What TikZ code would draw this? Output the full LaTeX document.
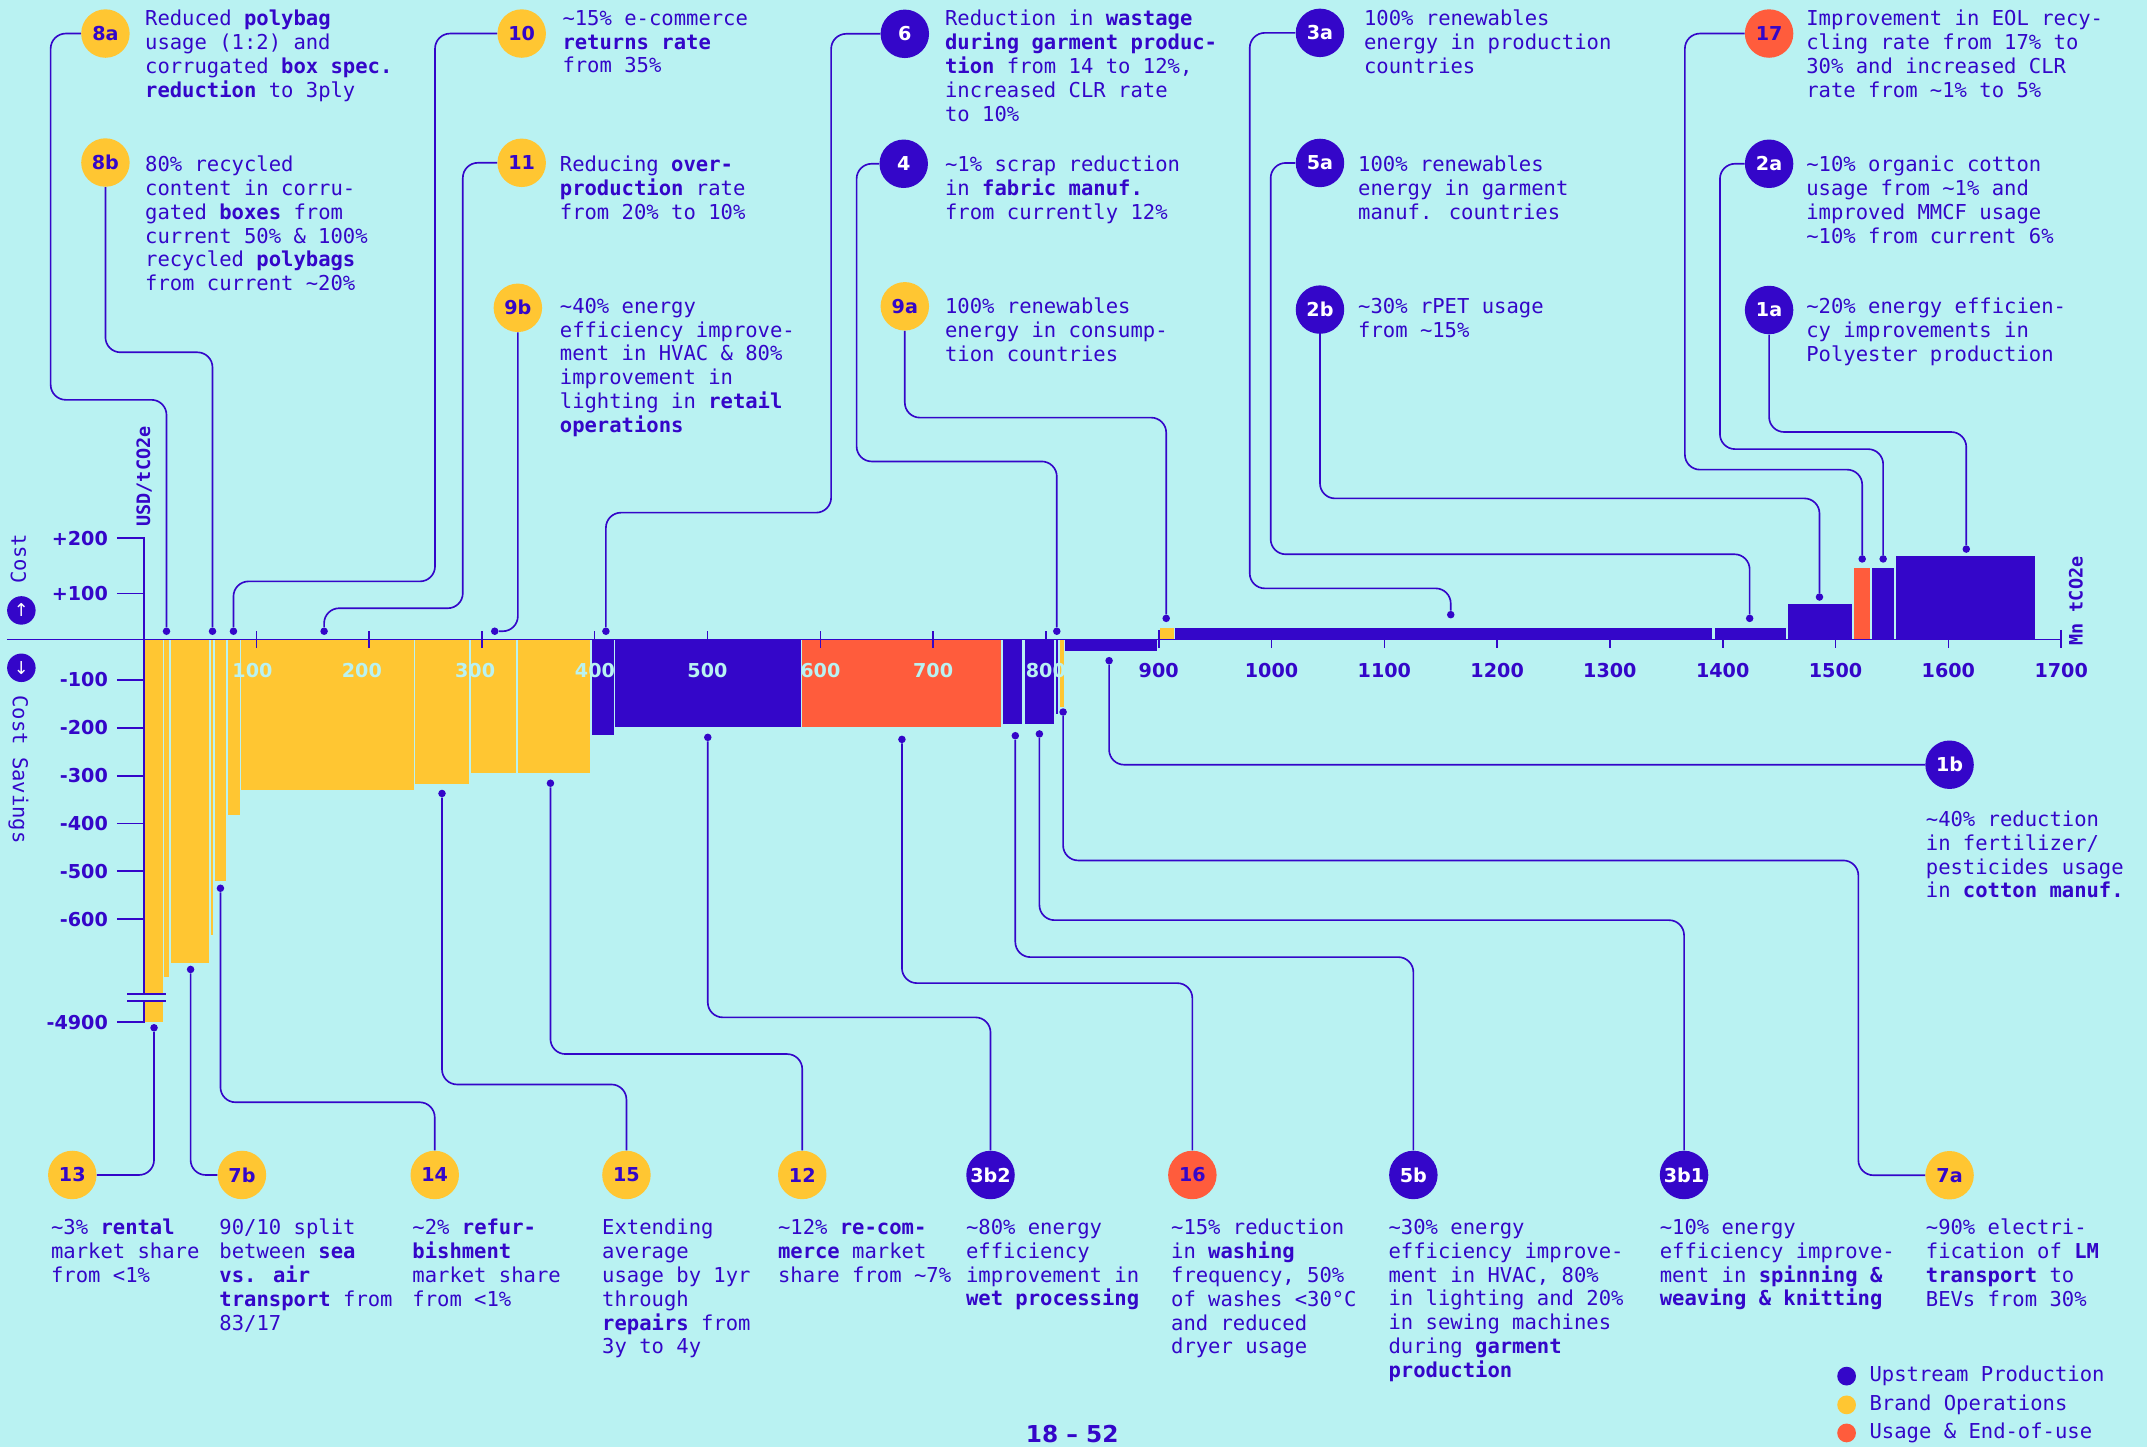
\documentclass[tikz,border=0pt]{standalone}
\usepackage{fontspec}
\setmainfont{DejaVu Sans Mono}
\newfontfamily\axisfont{DejaVu Sans}
\definecolor{bg}{HTML}{B9F2F2}
\definecolor{blu}{HTML}{3406C9}
\definecolor{yel}{HTML}{FFC632}
\definecolor{org}{HTML}{FF5C3C}

\begin{document}
\begin{tikzpicture}[x=1pt, y=-1pt,
  axisline/.style={draw=blu, line width=1.2pt},
  conn/.style={draw=blu, line width=1.2pt, rounded corners=11pt},
  enddot/.style={shape=circle, fill=blu, inner sep=0pt, minimum size=5.5pt},
  badge/.style={shape=circle, inner sep=0pt, minimum size=35.4pt, font=\axisfont\bfseries\fontsize{14}{14}\selectfont},
  ybadge/.style={badge, fill=yel, text=blu},
  bbadge/.style={badge, fill=blu, text=white},
  obadge/.style={badge, fill=org, text=blu},
  desc/.style={anchor=north west, align=left, inner sep=0pt, text=blu, font=\fontsize{15}{17.4}\selectfont},
  ylab/.style={anchor=east, inner sep=0pt, text=blu, font=\axisfont\bfseries\fontsize{14}{14}\selectfont},
  xlab/.style={inner sep=0pt, font=\axisfont\bfseries\fontsize{14}{14}\selectfont},
  unitlab/.style={inner sep=0pt, text=blu, rotate=90, font=\bfseries\fontsize{13.5}{13.5}\selectfont}]
\useasboundingbox (0,0) rectangle (1568,1057);
\fill[bg] (0,0) rectangle (1568,1057);

\fill[yel] (105,467) rectangle (118.7,746.4);
\fill[yel] (120,467) rectangle (123.2,713.5);
\fill[yel] (124.9,467) rectangle (152.6,703.3);
\fill[yel] (153.9,467) rectangle (155.9,683);
\fill[yel] (156.8,467) rectangle (165,643.6);
\fill[yel] (166.3,467) rectangle (175.1,595.3);
\fill[yel] (176,467) rectangle (302,577.2);
\fill[yel] (303.2,467) rectangle (342.7,572.2);
\fill[yel] (344,467) rectangle (377,564.5);
\fill[yel] (378.2,467) rectangle (431,564.5);
\fill[blu] (432.2,467) rectangle (448.4,537);
\fill[blu] (449.4,467) rectangle (585,531.3);
\fill[org] (586,467) rectangle (731,531.3);
\fill[blu] (732.4,467) rectangle (746.7,529);
\fill[blu] (748.3,467) rectangle (769.9,529);
\fill[blu] (770.9,467) rectangle (772.5,521.4);
\fill[yel] (773.8,467) rectangle (777,516.1);
\fill[blu] (778.1,467) rectangle (844.9,475.4);
\fill[yel] (847.4,467) rectangle (857.2,459);
\fill[blu] (858.2,467) rectangle (1250.3,459);
\fill[blu] (1252.2,467) rectangle (1304.2,459);
\fill[blu] (1305.6,467) rectangle (1352.5,441.3);
\fill[org] (1353.9,467) rectangle (1365.5,415.1);
\fill[blu] (1367.3,467) rectangle (1383.2,415.1);
\fill[blu] (1384.5,467) rectangle (1486.2,406);

\draw[axisline] (5,467) -- (1505,467);
\draw[axisline] (1505,460) -- (1505,473);
\draw[axisline] (187.2,461) -- (187.2,473) (269.6,461) -- (269.6,473) (351.9,461) -- (351.9,473)
  (434.3,461) -- (434.3,467) (516.7,461) -- (516.7,467) (599.1,461) -- (599.1,473)
  (681.5,461) -- (681.5,473) (763.8,461) -- (763.8,467) (846.2,460) -- (846.2,473);
\draw[axisline] (928.6,467) -- (928.6,473) (1011,467) -- (1011,473) (1093.4,467) -- (1093.4,473)
  (1175.7,467) -- (1175.7,473) (1258.1,467) -- (1258.1,473) (1340.5,467) -- (1340.5,473)
  (1422.9,467) -- (1422.9,473);
\draw[axisline] (85.4,393) -- (105,393) -- (105,725.8);
\draw[axisline] (105,731) -- (105,746.4) -- (85.4,746.4);
\draw[axisline] (85.4,433.4) -- (105,433.4) (85.4,496.6) -- (105,496.6) (85.4,531.5) -- (105,531.5)
  (85.4,566.5) -- (105,566.5) (85.4,601.4) -- (105,601.4) (85.4,636.3) -- (105,636.3)
  (85.4,671.2) -- (105,671.2);
\fill[bg] (93,725.8) rectangle (121.3,731);
\draw[axisline] (93,725.8) -- (121.3,725.8) (93,731) -- (121.3,731);

\node[ylab] (y200) at (79,393) {+200};
\node[ylab] (y100) at (79,433.4) {+100};
\node[ylab] (ym100) at (79,496.6) {-100};
\node[ylab] (ym200) at (79,531.5) {-200};
\node[ylab] (ym300) at (79,566.5) {-300};
\node[ylab] (ym400) at (79,601.4) {-400};
\node[ylab] (ym500) at (79,636.3) {-500};
\node[ylab] (ym600) at (79,671.2) {-600};
\node[ylab] (ym4900) at (79,746.4) {-4900};

\node[xlab, text=bg] (x100) at (184.4,490) {100};
\node[xlab, text=bg] (x200) at (264.3,490) {200};
\node[xlab, text=bg] (x300) at (347,490) {300};
\node[xlab, text=bg] (x400) at (434.5,490) {400};
\node[xlab, text=bg] (x500) at (516.7,490) {500};
\node[xlab, text=bg] (x600) at (599.1,490) {600};
\node[xlab, text=bg] (x700) at (681.5,490) {700};
\node[xlab, text=bg] (x800) at (763.8,490) {800};
\node[xlab, text=blu] (x900) at (846.2,490) {900};
\node[xlab, text=blu] (x1000) at (928.6,490) {1000};
\node[xlab, text=blu] (x1100) at (1011,490) {1100};
\node[xlab, text=blu] (x1200) at (1093.4,490) {1200};
\node[xlab, text=blu] (x1300) at (1175.7,490) {1300};
\node[xlab, text=blu] (x1400) at (1258.1,490) {1400};
\node[xlab, text=blu] (x1500) at (1340.5,490) {1500};
\node[xlab, text=blu] (x1600) at (1422.9,490) {1600};
\node[xlab, text=blu] (x1700) at (1505.3,490) {1700};

\node[unitlab] (usd) at (105.2,348) {USD/tCO2e};
\node[unitlab] (mnt) at (1516,439) {Mn tCO2e};
\node[inner sep=0pt, text=blu, rotate=90, font=\fontsize{15}{15}\selectfont] (cost) at (13.5,408) {Cost};
\node[inner sep=0pt, text=blu, rotate=-90, font=\fontsize{15}{15}\selectfont] (savings) at (13.5,562) {Cost Savings};
\node[shape=circle, fill=blu, text=white, inner sep=0pt, minimum size=20.8pt, font=\axisfont\fontsize{13}{13}\selectfont] (cup) at (15.6,445.8) {↑};
\node[shape=circle, fill=blu, text=white, inner sep=0pt, minimum size=20.8pt, font=\axisfont\fontsize{13}{13}\selectfont] (cdown) at (15.6,487.7) {↓};

\node[enddot] (d8a) at (121.6,461) {};
\node[enddot] (d8b) at (155.2,461) {};
\node[enddot] (d10) at (170.5,461) {};
\node[enddot] (d11) at (236.7,461) {};
\node[enddot] (d9b) at (361.3,461) {};
\node[enddot] (d6) at (442.5,461) {};
\node[enddot] (d4) at (771.8,461) {};
\node[enddot] (d9a) at (851.7,451.6) {};
\node[enddot] (d3a) at (1059.5,448.9) {};
\node[enddot] (d5a) at (1277.8,451.6) {};
\node[enddot] (d2b) at (1328.8,436) {};
\node[enddot] (d17) at (1360,408.2) {};
\node[enddot] (d2a) at (1375.3,408.2) {};
\node[enddot] (d1a) at (1436,401) {};
\node[enddot] (d13) at (112.5,750.6) {};
\node[enddot] (d7b) at (139.2,708) {};
\node[enddot] (d14) at (161,648.7) {};
\node[enddot] (d15) at (322.8,579.5) {};
\node[enddot] (d12) at (402,572) {};
\node[enddot] (d3b2) at (516.9,538.5) {};
\node[enddot] (d16) at (658.7,540) {};
\node[enddot] (d5b) at (741.5,537.3) {};
\node[enddot] (d3b1) at (759.1,536) {};
\node[enddot] (d7a) at (776.4,520) {};
\node[enddot] (d1b) at (810,482.5) {};

\node[ybadge] (b8a) at (77,24.5) {8a};
\node[ybadge] (b8b) at (77,118.7) {8b};
\node[ybadge] (b10) at (381,24.5) {10};
\node[ybadge] (b11) at (381,118.9) {11};
\node[ybadge] (b9b) at (378.2,224.8) {9b};
\node[bbadge] (b6) at (660.8,24.7) {6};
\node[bbadge] (b4) at (660,119.6) {4};
\node[ybadge] (b9a) at (660.8,223.7) {9a};
\node[bbadge] (b3a) at (964,24) {3a};
\node[bbadge] (b5a) at (964,119) {5a};
\node[bbadge] (b2b) at (964,226.1) {2b};
\node[obadge] (b17) at (1292,24.5) {17};
\node[bbadge] (b2a) at (1292,119.6) {2a};
\node[bbadge] (b1a) at (1292,226.4) {1a};
\node[bbadge] (b1b) at (1423.8,558.5) {1b};
\node[ybadge] (b13) at (52.8,858.1) {13};
\node[ybadge] (b7b) at (176.7,858.1) {7b};
\node[ybadge] (b14) at (317.5,858.1) {14};
\node[ybadge] (b15) at (457.5,858.1) {15};
\node[ybadge] (b12) at (585.9,858.1) {12};
\node[bbadge] (b3b2) at (723.4,858.1) {3b2};
\node[obadge] (b16) at (870.8,858.1) {16};
\node[bbadge] (b5b) at (1032.2,858.1) {5b};
\node[bbadge] (b3b1) at (1229.9,858.1) {3b1};
\node[ybadge] (b7a) at (1423.8,858.3) {7a};

\draw[conn] (b8a.west) -| (37,292) -| (d8a);
\draw[conn] (b8b.south) |- (155.2,257.3) -- (d8b);
\draw[conn] (b10.west) -| (317.7,424.6) -| (d10);
\draw[conn] (b11.west) -| (338,444.2) -| (d11);
\draw[conn] (b9b.south) |- (d9b);
\draw[conn] (b6.west) -| (607,374.4) -| (d6);
\draw[conn] (b4.west) -| (625.6,337) -| (d4);
\draw[conn] (b9a.south) |- (851.7,305) -- (d9a);
\draw[conn] (b3a.west) -| (912.7,429.7) -| (d3a);
\draw[conn] (b5a.west) -| (928,404.8) -| (d5a);
\draw[conn] (b2b.south) |- (1328.8,364) -- (d2b);
\draw[conn] (b17.west) -| (1230.5,343) -| (d17);
\draw[conn] (b2a.west) -| (1256.1,328) -| (d2a);
\draw[conn] (b1a.south) |- (1436,315.5) -- (d1a);
\draw[conn] (d13) |- (b13.east);
\draw[conn] (d7b) |- (b7b.west);
\draw[conn] (d14) |- (317.5,805) -- (b14.north);
\draw[conn] (d15) |- (457.5,792) -- (b15.north);
\draw[conn] (d12) |- (585.9,769.8) -- (b12.north);
\draw[conn] (d3b2) |- (723.4,743) -- (b3b2.north);
\draw[conn] (d16) |- (870.8,718) -- (b16.north);
\draw[conn] (d5b) |- (1032.2,699) -- (b5b.north);
\draw[conn] (d3b1) |- (1229.9,672) -- (b3b1.north);
\draw[conn] (d7a) |- (1357.2,628.4) |- (b7a.west);
\draw[conn] (d1b) |- (b1b.west);

\node[desc] (t8a) at (105.8,7.3) {Reduced \textbf{polybag}\\usage (1:2) and\\corrugated \textbf{box spec.}\\\textbf{reduction} to 3ply};
\node[desc] (t8b) at (105.8,113.7) {80\% recycled\\content in corru-\\gated \textbf{boxes} from\\current 50\% \& 100\%\\recycled \textbf{polybags}\\from current \textasciitilde20\%};
\node[desc] (t10) at (410.6,7.3) {\textasciitilde15\% e-commerce\\\textbf{returns rate}\\from 35\%};
\node[desc] (t11) at (408.7,113.7) {Reducing \textbf{over-}\\\textbf{production} rate\\from 20\% to 10\%};
\node[desc] (t9b) at (408.7,217.4) {\textasciitilde40\% energy\\efficiency improve-\\ment in HVAC \& 80\%\\improvement in\\lighting in \textbf{retail}\\\textbf{operations}};
\node[desc] (t6) at (690,7.3) {Reduction in \textbf{wastage}\\\textbf{during garment produc-}\\\textbf{tion} from 14 to 12\%,\\increased CLR rate\\to 10\%};
\node[desc] (t4) at (690,113.7) {\textasciitilde1\% scrap reduction\\in \textbf{fabric manuf.}\\from currently 12\%};
\node[desc] (t9a) at (690,217.4) {100\% renewables\\energy in consump-\\tion countries};
\node[desc] (t3a) at (996,7.3) {100\% renewables\\energy in production\\countries};
\node[desc] (t5a) at (991.7,113.7) {100\% renewables\\energy in garment\\manuf. countries};
\node[desc] (t2b) at (991.7,217.4) {\textasciitilde30\% rPET usage\\from \textasciitilde15\%};
\node[desc] (t17) at (1319,7.3) {Improvement in EOL recy-\\cling rate from 17\% to\\30\% and increased CLR\\rate from \textasciitilde1\% to 5\%};
\node[desc] (t2a) at (1319,113.7) {\textasciitilde10\% organic cotton\\usage from \textasciitilde1\% and\\improved MMCF usage\\\textasciitilde10\% from current 6\%};
\node[desc] (t1a) at (1319,217.4) {\textasciitilde20\% energy efficien-\\cy improvements in\\Polyester production};
\node[desc] (t1b) at (1406.3,592) {\textasciitilde40\% reduction\\in fertilizer/\\pesticides usage\\in \textbf{cotton manuf.}};
\node[desc] (t13) at (37.1,890.2) {\textasciitilde3\% \textbf{rental}\\market share\\from <1\%};
\node[desc] (t7b) at (160.1,890.2) {90/10 split\\between \textbf{sea}\\\textbf{vs. air}\\\textbf{transport} from\\83/17};
\node[desc] (t14) at (301,890.2) {\textasciitilde2\% \textbf{refur-}\\\textbf{bishment}\\market share\\from <1\%};
\node[desc] (t15) at (439.6,890.2) {Extending\\average\\usage by 1yr\\through\\\textbf{repairs} from\\3y to 4y};
\node[desc] (t12) at (568,890.2) {\textasciitilde12\% \textbf{re-com-}\\\textbf{merce} market\\share from \textasciitilde7\%};
\node[desc] (t3b2) at (705.3,890.2) {\textasciitilde80\% energy\\efficiency\\improvement in\\\textbf{wet processing}};
\node[desc] (t16) at (855.1,890.2) {\textasciitilde15\% reduction\\in \textbf{washing}\\frequency, 50\%\\of washes <30°C\\and reduced\\dryer usage};
\node[desc] (t5b) at (1013.9,890.2) {\textasciitilde30\% energy\\efficiency improve-\\ment in HVAC, 80\%\\in lighting and 20\%\\in sewing machines\\during \textbf{garment}\\\textbf{production}};
\node[desc] (t3b1) at (1212,890.2) {\textasciitilde10\% energy\\efficiency improve-\\ment in \textbf{spinning \&}\\\textbf{weaving \& knitting}};
\node[desc] (t7a) at (1406.3,890.2) {\textasciitilde90\% electri-\\fication of \textbf{LM}\\\textbf{transport} to\\BEVs from 30\%};

\node[shape=circle, fill=blu, inner sep=0pt, minimum size=13.7pt] (lg1) at (1348.6,1005) {};
\node[shape=circle, fill=yel, inner sep=0pt, minimum size=13.7pt] (lg2) at (1348.6,1026) {};
\node[shape=circle, fill=org, inner sep=0pt, minimum size=13.7pt] (lg3) at (1348.6,1046.5) {};
\node[desc, anchor=west] (lt1) at (1365.2,1005) {Upstream Production};
\node[desc, anchor=west] (lt2) at (1365.2,1026) {Brand Operations};
\node[desc, anchor=west] (lt3) at (1365.2,1046.5) {Usage \& End-of-use};
\node[inner sep=0pt, text=blu, font=\axisfont\bfseries\fontsize{17}{17}\selectfont] (page) at (783,1047) {18 – 52};
\end{tikzpicture}
\end{document}
